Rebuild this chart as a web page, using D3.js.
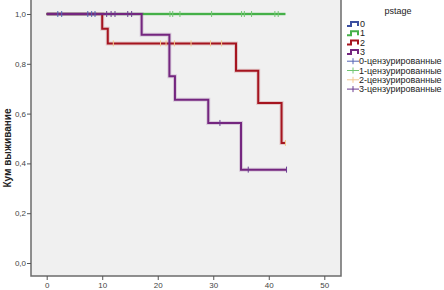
<!DOCTYPE html>
<html>
<head>
<meta charset="utf-8">
<script src="https://cdn.jsdelivr.net/npm/d3@7"></script>
<style>
  body { margin: 0; background: #fff; }
  svg { display: block; font-family: Arial, "Liberation Sans", sans-serif; }
</style>
</head>
<body>
<svg id="chart" width="444" height="290"></svg>
<script>
// Kaplan-Meier curves by pstage.

const groups = ['0', '1', '2', '3'];
const lineColors = ['#3b4fa0', '#45b048', '#a5141f', '#74267f'];
const censColors = ['#5565b5', '#72c672', '#f3c98f', '#6a3c90'];

// step points: [time, survival after that time]
const steps0 = [[0, 1], [9, 1]];
const steps1 = [[0, 1], [43, 1]];
const steps2 = [[0, 1], [10, 0.941], [11, 0.882], [34.1, 0.772], [38.1, 0.643], [42.3, 0.482], [43, 0.482]];
const steps3 = [[0, 1], [17.1, 0.917], [22.1, 0.75], [23.1, 0.656], [29.1, 0.5625], [35, 0.375], [43.2, 0.375]];

// censored times: [time, survival]
const cens0 = [[2, 1], [2.7, 1], [7.4, 1], [8.1, 1], [8.7, 1]];
const cens1 = [[22.2, 1], [22.7, 1], [24, 1], [29.7, 1], [35.1, 1], [35.6, 1], [36.9, 1], [41.1, 1], [41.7, 1]];
const cens2 = [[12, 0.882], [20.5, 0.882], [21.5, 0.882], [23, 0.882], [26, 0.882], [29.5, 0.882], [31.5, 0.882], [43, 0.482]];
const cens3 = [[10.8, 1], [11.6, 1], [12.3, 1], [14.6, 1], [15.3, 1], [31.2, 0.5625], [36.3, 0.375], [43.2, 0.375]];

const xTicks = [0, 10, 20, 30, 40, 50];
const yTicks = [0, 0.2, 0.4, 0.6, 0.8, 1.0];
const legendLabels = ['0', '1', '2', '3',
  '0-цензурированные', '1-цензурированные', '2-цензурированные', '3-цензурированные'];

const svg = d3.select('#chart');
const frame = { left: 31, top: 0, right: 341, bottom: 276 };

const x = d3.scaleLinear().domain([0, 50]).range([46.7, 324.3]);
const y = d3.scaleLinear().domain([0, 1]).range([263, 14]);

// plot background + frame
svg.append('rect')
  .attr('x', frame.left).attr('y', frame.top)
  .attr('width', frame.right - frame.left).attr('height', frame.bottom - frame.top)
  .attr('fill', '#f0f0f0');

const allSteps = [steps0, steps1, steps2, steps3];
const allCens = [cens0, cens1, cens2, cens3];

const line = d3.line().x(d => x(d[0])).y(d => y(d[1])).curve(d3.curveStepAfter);

const plot = svg.append('g');
allSteps.forEach((s, i) => {
  // soft halo like the SPSS renderer
  plot.append('path').attr('d', line(s)).attr('fill', 'none')
    .attr('stroke', lineColors[i]).attr('stroke-opacity', 0.18).attr('stroke-width', 4);
  plot.append('path').attr('d', line(s)).attr('fill', 'none')
    .attr('stroke', lineColors[i]).attr('stroke-width', 2);
});

allCens.forEach((c, i) => {
  plot.selectAll(null).data(c).enter().append('line')
    .attr('x1', d => x(d[0])).attr('x2', d => x(d[0]))
    .attr('y1', d => y(d[1]) - 3).attr('y2', d => y(d[1]) + 3)
    .attr('stroke', censColors[i]).attr('stroke-width', 1);
});

svg.append('path')
  .attr('d', `M${frame.left},${frame.top}V${frame.bottom}H${frame.right}V${frame.top}`)
  .attr('fill', 'none').attr('stroke', '#6b6b6b').attr('stroke-width', 1.5);

// axes
const xAxis = svg.append('g').attr('transform', `translate(0,${frame.bottom})`)
  .call(d3.axisBottom(x).tickValues(xTicks).tickSize(4).tickSizeOuter(0).tickPadding(2));
const yAxis = svg.append('g').attr('transform', `translate(${frame.left},0)`)
  .call(d3.axisLeft(y).tickValues(yTicks).tickSize(4).tickPadding(1)
    .tickFormat(d => d3.format('.1f')(d).replace('.', ',')));
[xAxis, yAxis].forEach(a => {
  a.select('.domain').remove();
  a.selectAll('line').attr('stroke', '#555');
  a.selectAll('text').attr('fill', '#444').attr('font-size', 8);
});

svg.append('text')
  .attr('transform', 'translate(11,148) rotate(-90)')
  .attr('text-anchor', 'middle')
  .attr('font-size', 10).attr('font-weight', 'bold').attr('fill', '#222')
  .text('Кум выживание');

// legend
const lg = svg.append('g');
lg.append('text').attr('x', 398).attr('y', 14).attr('text-anchor', 'middle')
  .attr('font-size', 9).attr('fill', '#222').text('pstage');

legendLabels.forEach((lab, i) => {
  const yy = 24 + i * 9.3;
  const g = lg.append('g').attr('transform', `translate(347,${yy})`);
  if (i < 4) {
    g.append('path').attr('d', 'M0,2H4V-2H11V2')
      .attr('fill', 'none').attr('stroke', lineColors[i]).attr('stroke-width', 2);
    g.append('text').attr('x', 13).attr('y', 3).attr('font-size', 9).attr('fill', '#222').text(lab);
  } else {
    const c = censColors[i - 4];
    g.append('line').attr('x1', 0).attr('x2', 12).attr('y1', 0).attr('y2', 0)
      .attr('stroke', c).attr('stroke-width', 1);
    g.append('line').attr('x1', 6).attr('x2', 6).attr('y1', -3).attr('y2', 3)
      .attr('stroke', c).attr('stroke-width', 1);
    g.append('text').attr('x', 12).attr('y', 3).attr('font-size', 9).attr('fill', '#222').text(lab);
  }
});
</script>
</body>
</html>
